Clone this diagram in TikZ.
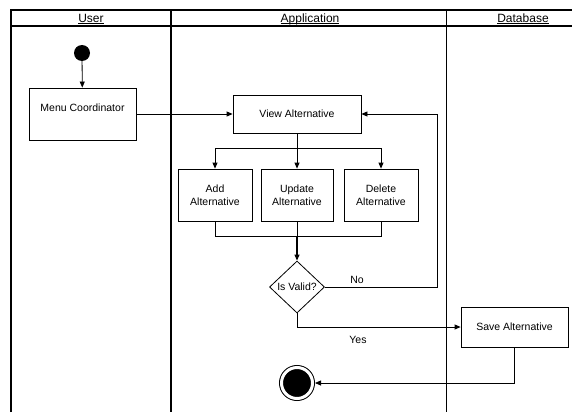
\documentclass[tikz,border=0pt]{standalone}
\usepackage{fontspec}
\setmainfont{Liberation Sans}
\usetikzlibrary{arrows.meta,shapes.geometric}
\newcommand{\lanetitle}[1]{\underline{\smash{#1}}}
\tikzset{
	lane/.style={line width=1.1pt},
	actbox/.style={draw, line width=0.8pt, align=center, inner sep=0pt, font=\fontsize{10.5}{12.5}\selectfont},
	decision/.style={diamond, draw, line width=0.8pt, inner sep=0pt, minimum width=55pt, minimum height=52pt, font=\fontsize{10.5}{12.5}\selectfont},
	flow/.style={line width=0.8pt, -{Triangle[length=6pt,width=5pt]}},
	link/.style={line width=0.8pt},
	lbl/.style={font=\fontsize{10.5}{12.5}\selectfont, inner sep=0pt},
	head/.style={font=\fontsize{12}{14}\selectfont, inner sep=0pt, anchor=base}
}
\begin{document}
\begin{tikzpicture}[x=1pt,y=-1pt]
			\useasboundingbox (0,0) rectangle (572,412);
			% swimlanes
			\draw[lane] (11,412) -- (11,10) -- (572,10);
			\draw[lane] (11,26) -- (572,26);
			\draw[line width=1.6pt] (171,10) -- (171,412);
			\draw[line width=0.8pt] (446,10) -- (446,412);
			\node[head] (huser) at (91,22.3) {\lanetitle{User}};
			\node[head] (happ) at (310,22.3) {\lanetitle{Application}};
			\node[head] (hdb) at (523,22.3) {\lanetitle{Database}};
			% activities
			\node[circle, fill=black, minimum size=16pt, inner sep=0pt] (start) at (82,53) {};
			\node[actbox, line width=0.9pt, minimum width=107pt, minimum height=52pt, text height=8pt, text depth=12.5pt] (menu) at (82.5,114) {Menu Coordinator};
			\node[actbox, minimum width=128pt, minimum height=38pt] (view) at (297,114) {View Alternative};
			\node[actbox, minimum width=74pt, minimum height=52pt] (add) at (215,195) {Add\\Alternative};
			\node[actbox, minimum width=72pt, minimum height=52pt] (update) at (297,195) {Update\\Alternative};
			\node[actbox, minimum width=74pt, minimum height=52pt] (delete) at (381,195) {Delete\\Alternative};
			\node[decision] (valid) at (297,287) {Is Valid?};
			\node[actbox, minimum width=107pt, minimum height=40pt] (save) at (514.5,327) {Save Alternative};
			\node[circle, draw=black, double=white, double distance=3pt, line width=1pt, fill=black, minimum size=31pt, inner sep=0pt, outer sep=2.5pt] (end) at (297,383) {};
			\coordinate (fork) at (297,148);
			\coordinate (join) at (297,236);
			\coordinate (noturn) at (437,287);
			% connectors
			\draw[flow] (start) -- (menu);
			\draw[flow] (menu) -- (view);
			\draw[link] (view) -- (fork);
			\draw[flow] (fork) -| (add);
			\draw[flow] (fork) -- (update);
			\draw[flow] (fork) -| (delete);
			\draw[link] (add) |- (join);
			\draw[link] (delete) |- (join);
			\draw[link] (update) -- (join);
			\draw[flow, line width=1.1pt] (join) -- (valid);
			\draw[flow] (valid) -- (noturn) |- (view);
			\draw[flow] (valid) |- (save);
			\draw[flow] (save) |- (end);
			\node[lbl] (nolbl) at (357,280) {No};
			\node[lbl] (yeslbl) at (358,340) {Yes};
		\end{tikzpicture}
\end{document}
